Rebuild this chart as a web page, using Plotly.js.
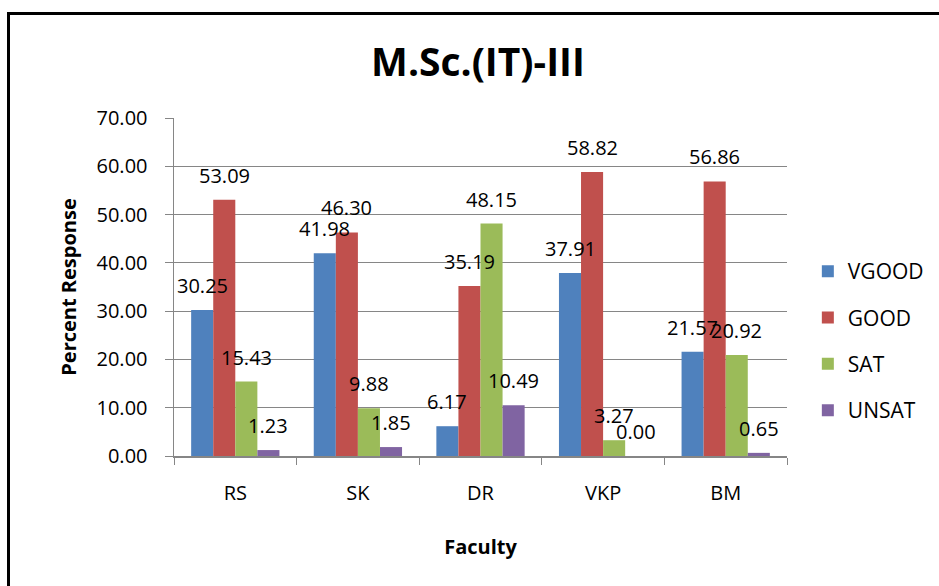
<!DOCTYPE html>
<html><head><meta charset="utf-8">
<script src="https://cdn.plot.ly/plotly-3.0.1.min.js"></script>
<style>
html,body{margin:0;padding:0;background:#fff;overflow:hidden;}
#frame{position:absolute;left:7px;top:12px;width:1000px;height:700px;border:3px solid #000;box-sizing:border-box;}
#chart{position:absolute;left:0;top:0;width:1000px;height:586px;}
</style></head>
<body>
<div id="frame"></div>
<div id="chart"></div>
<script>
const faculty = ['RS','SK','DR','VKP','BM'];
const seriesNames = ['VGOOD','GOOD','SAT','UNSAT'];
const vgood = [30.25, 41.98, 6.17, 37.91, 21.57];
const good = [53.09, 46.30, 35.19, 58.82, 56.86];
const sat = [15.43, 9.88, 48.15, 3.27, 20.92];
const unsat = [1.23, 1.85, 10.49, 0.00, 0.65];
const colors = ['#4F81BD','#C0504D','#9BBB59','#8064A2'];
const allSeries = [vgood, good, sat, unsat];

const FONT = 'Open Sans, Lato, sans-serif';
const bargap = 0.28;
const traces = allSeries.map((vals, k) => ({
  type: 'bar', name: seriesNames[k], x: faculty, y: vals,
  marker: {color: colors[k]}, legendgroup: seriesNames[k],
  hoverinfo: 'skip'
}));

const barW = (1 - bargap) / 4;
const annotations = [];
allSeries.forEach((vals, k) => {
  vals.forEach((v, i) => {
    annotations.push({
      x: i + (k - 1.5) * barW, y: v, xref: 'x', yref: 'y',
      text: v.toFixed(2), showarrow: false, yanchor: 'bottom', yshift: 9,
      font: {family: FONT, size: 20, color: '#000'}
    });
  });
});

const layout = {
  width: 1000, height: 586,
  margin: {l: 174, r: 1000 - 787, t: 118, b: 130},
  paper_bgcolor: 'rgba(0,0,0,0)', plot_bgcolor: 'rgba(0,0,0,0)',
  barmode: 'group', bargap: bargap, bargroupgap: 0,
  title: {text: '<b>M.Sc.(IT)-III</b>', x: 0.478, xanchor: 'center', y: 0.894, yanchor: 'middle',
          xref: 'container', font: {family: FONT, size: 39, color: '#000'}},
  xaxis: {type: 'category', tickson: 'boundaries', ticks: 'outside', ticklen: 7, tickcolor: '#868686',
          showline: true, linecolor: '#868686', linewidth: 1.5, showgrid: false,
          ticklabelstandoff: 18,
          tickfont: {family: FONT, size: 20, color: '#000'},
          title: {text: '<b>Faculty</b>', font: {family: FONT, size: 20, color: '#000'}, standoff: 35}},
  yaxis: {range: [0, 70], dtick: 10, tickformat: '.2f', ticks: 'outside', ticklen: 8, tickcolor: '#868686',
          showline: true, linecolor: '#868686', linewidth: 1.5, gridcolor: '#868686', gridwidth: 1.2,
          zeroline: false, ticklabelstandoff: 13,
          tickfont: {family: FONT, size: 20, color: '#000'},
          title: {text: '<b>Percent Response</b>', font: {family: FONT, size: 20, color: '#000'}, standoff: 14}},
  legend: {x: 1.034, y: 0.34, xanchor: 'left', yanchor: 'middle', traceorder: 'grouped', tracegroupgap: 16,
           font: {family: FONT, size: 21, color: '#000'}, bgcolor: 'rgba(0,0,0,0)'},
  annotations: annotations,
  showlegend: true
};
Plotly.newPlot('chart', traces, layout, {displayModeBar: false, staticPlot: true});
</script>
</body></html>
